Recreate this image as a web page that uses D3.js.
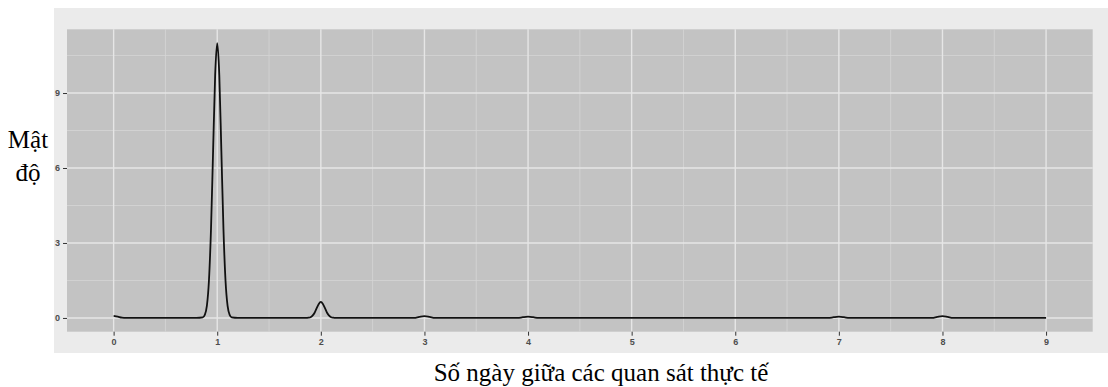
<!DOCTYPE html>
<html>
<head>
<meta charset="utf-8">
<script src="https://cdn.jsdelivr.net/npm/d3@7"></script>
<style>
  html, body { margin: 0; padding: 0; background: #ffffff; }
  svg { display: block; }
</style>
</head>
<body>
<svg id="chart" width="1108" height="387"></svg>
<script>
// ---- data ----
const xTicks = [0, 1, 2, 3, 4, 5, 6, 7, 8, 9];
const xMinor = [0.5, 1.5, 2.5, 3.5, 4.5, 5.5, 6.5, 7.5, 8.5];
const yTicks = [0, 3, 6, 9];
const yMinor = [1.5, 4.5, 7.5, 10.5];
const densityX = [0, 0.04, 0.08, 0.12, 0.8, 0.86, 0.88, 0.9, 0.92, 0.94, 0.96, 0.98, 1.0, 1.02, 1.04, 1.06, 1.08, 1.1, 1.12, 1.14, 1.2,
  1.86, 1.88, 1.9, 1.92, 1.94, 1.96, 1.98, 2.0, 2.02, 2.04, 2.06, 2.08, 2.1, 2.12, 2.14,
  2.9, 2.95, 3.0, 3.05, 3.1, 3.9, 3.95, 4.0, 4.05, 4.1, 6.9, 6.95, 7.0, 7.05, 7.1, 7.9, 7.95, 8.0, 8.05, 8.1, 9.0];
const densityY = [0.08, 0.05, 0.01, 0, 0, 0.02, 0.12, 0.48, 1.49, 3.57, 6.67, 9.71, 11.0, 9.71, 6.67, 3.57, 1.49, 0.48, 0.12, 0.02, 0,
  0, 0.01, 0.03, 0.09, 0.21, 0.39, 0.56, 0.64, 0.56, 0.39, 0.21, 0.09, 0.03, 0.01, 0,
  0, 0.04, 0.07, 0.04, 0, 0, 0.03, 0.05, 0.03, 0, 0, 0.03, 0.05, 0.03, 0, 0, 0.04, 0.07, 0.04, 0, 0];
const yLabelLines = ["Mật", "độ"];
const xTitle = "Số ngày giữa các quan sát thực tế";

// ---- layout ----
const svg = d3.select("#chart");
const W = 1108, H = 387;
const panel = { left: 67, top: 29.3, right: 1092.7, bottom: 331.7 };

svg.append("rect").attr("x", 0).attr("y", 0).attr("width", W).attr("height", H).attr("fill", "#ffffff");
svg.append("rect").attr("x", 54).attr("y", 8).attr("width", W - 54).attr("height", 345).attr("fill", "#EBEBEB");

const x = d3.scaleLinear().domain([-0.45, 9.45]).range([panel.left, panel.right]);
const y = d3.scaleLinear().domain([-0.55, 11.55]).range([panel.bottom, panel.top]);

svg.append("rect")
  .attr("x", panel.left).attr("y", panel.top)
  .attr("width", panel.right - panel.left).attr("height", panel.bottom - panel.top)
  .attr("fill", "#C3C3C3");

const grid = svg.append("g");
// minor grid
grid.selectAll("line.ymin").data(yMinor).join("line")
  .attr("x1", panel.left).attr("x2", panel.right)
  .attr("y1", d => y(d)).attr("y2", d => y(d))
  .attr("stroke", "#D6D6D6").attr("stroke-width", 0.8);
grid.selectAll("line.xmin").data(xMinor).join("line")
  .attr("y1", panel.top).attr("y2", panel.bottom)
  .attr("x1", d => x(d)).attr("x2", d => x(d))
  .attr("stroke", "#D6D6D6").attr("stroke-width", 0.8);
// major grid
grid.selectAll("line.ymaj").data(yTicks).join("line")
  .attr("x1", panel.left).attr("x2", panel.right)
  .attr("y1", d => y(d)).attr("y2", d => y(d))
  .attr("stroke", "#E6E6E6").attr("stroke-width", 1.4);
grid.selectAll("line.xmaj").data(xTicks).join("line")
  .attr("y1", panel.top).attr("y2", panel.bottom)
  .attr("x1", d => x(d)).attr("x2", d => x(d))
  .attr("stroke", "#E6E6E6").attr("stroke-width", 1.4);

// density line
const pts = densityX.map((d, i) => [d, densityY[i]]);
const line = d3.line().x(d => x(d[0])).y(d => y(d[1])).curve(d3.curveMonotoneX);
svg.append("path").datum(pts)
  .attr("d", line).attr("fill", "none")
  .attr("stroke", "#111111").attr("stroke-width", 1.8)
  .attr("stroke-linejoin", "round");

// axes
const xAxis = d3.axisBottom(x).tickValues(xTicks).tickSize(4).tickPadding(3).tickFormat(d3.format("d"));
const gx = svg.append("g").attr("transform", `translate(0,${panel.bottom})`).call(xAxis);
gx.select(".domain").remove();
gx.selectAll(".tick line").attr("stroke", "#333333").attr("stroke-width", 1);
gx.selectAll(".tick text").attr("fill", "#4D4D4D").attr("font-family", "Liberation Sans, Arial, sans-serif")
  .attr("font-size", 9).attr("font-weight", "bold");

const yAxis = d3.axisLeft(y).tickValues(yTicks).tickSize(4).tickPadding(3).tickFormat(d3.format("d"));
const gy = svg.append("g").attr("transform", `translate(${panel.left},0)`).call(yAxis);
gy.select(".domain").remove();
gy.selectAll(".tick line").attr("stroke", "#333333").attr("stroke-width", 1);
gy.selectAll(".tick text").attr("fill", "#4D4D4D").attr("font-family", "Liberation Sans, Arial, sans-serif")
  .attr("font-size", 9).attr("font-weight", "bold");

// white overlay areas with serif labels
svg.append("rect").attr("x", 0).attr("y", 353).attr("width", W).attr("height", H - 353).attr("fill", "#ffffff");

svg.append("text")
  .attr("x", 601).attr("y", 381)
  .attr("text-anchor", "middle")
  .attr("font-family", "Liberation Serif, Times New Roman, serif")
  .attr("font-size", 25).attr("fill", "#000000")
  .text(xTitle);

const yl = svg.append("text")
  .attr("text-anchor", "middle")
  .attr("font-family", "Liberation Serif, Times New Roman, serif")
  .attr("font-size", 25).attr("fill", "#000000");
yLabelLines.forEach((t, i) => {
  yl.append("tspan").attr("x", 28).attr("y", 148 + i * 33).text(t);
});
</script>
</body>
</html>
